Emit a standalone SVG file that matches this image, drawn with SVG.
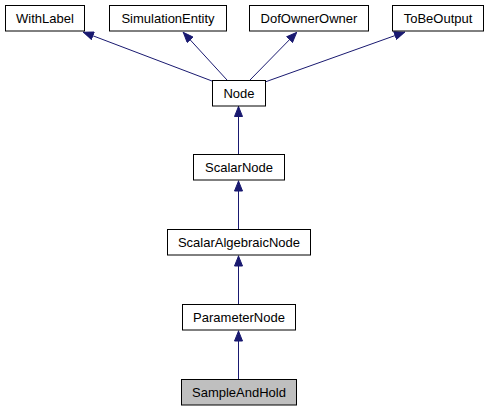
<svg xmlns="http://www.w3.org/2000/svg" width="489" height="411" viewBox="0 0 489 411">
<style>
.box{fill:#ffffff;stroke:#000000;stroke-width:1}
.cur{fill:#bfbfbf;stroke:#000000;stroke-width:1}
.lbl{font-family:"Liberation Sans",Arial,sans-serif;font-size:13px;fill:#000000;text-anchor:middle}
.edge{fill:none;stroke:#191970;stroke-width:1;marker-end:url(#arr)}
</style>
<defs>
<marker id="arr" viewBox="0 0 11 9" refX="11" refY="4.5" markerWidth="11" markerHeight="9" markerUnits="userSpaceOnUse" orient="auto">
<path d="M0.5,0.5 L10.5,4.5 L0.5,8.5 Z" fill="#191970" stroke="#191970" stroke-width="1"/>
</marker>
</defs>
<rect width="489" height="411" fill="#ffffff"/>
<g id="connectors">
<path class="edge" d="M212,81 L83,32"/>
<path class="edge" d="M227,80 L183,32"/>
<path class="edge" d="M250,80 L297,32"/>
<path class="edge" d="M265,82 L405,32"/>
<path class="edge" d="M238.5,154 L238.5,106"/>
<path class="edge" d="M238.5,229 L238.5,180.5"/>
<path class="edge" d="M238.5,304 L238.5,255.5"/>
<path class="edge" d="M238.5,379 L238.5,330.5"/>
</g>
<g id="WithLabel"><rect class="box" x="5.5" y="5.5" width="79" height="25.5"/><text class="lbl" x="45" y="22.5">WithLabel</text></g>
<g id="SimulationEntity"><rect class="box" x="109.5" y="5.5" width="117" height="25.5"/><text class="lbl" x="168" y="22.5">SimulationEntity</text></g>
<g id="DofOwnerOwner"><rect class="box" x="249.5" y="5.5" width="119" height="25.5"/><text class="lbl" x="309" y="22.5">DofOwnerOwner</text></g>
<g id="ToBeOutput"><rect class="box" x="392.5" y="5.5" width="91" height="25.5"/><text class="lbl" x="438" y="22.5">ToBeOutput</text></g>
<g id="Node"><rect class="box" x="212.5" y="80.5" width="53" height="25.5"/><text class="lbl" x="239" y="97.5">Node</text></g>
<g id="ScalarNode"><rect class="box" x="193.5" y="154.5" width="91" height="25.5"/><text class="lbl" x="239" y="171.5">ScalarNode</text></g>
<g id="ScalarAlgebraicNode"><rect class="box" x="167.5" y="229.5" width="143" height="25.5"/><text class="lbl" x="239" y="246.5">ScalarAlgebraicNode</text></g>
<g id="ParameterNode"><rect class="box" x="182.5" y="304.5" width="113" height="25.5"/><text class="lbl" x="239" y="321.5">ParameterNode</text></g>
<g id="SampleAndHold"><rect class="cur" x="181.5" y="379.5" width="115" height="25.5"/><text class="lbl" x="239" y="396.5">SampleAndHold</text></g>
</svg>
